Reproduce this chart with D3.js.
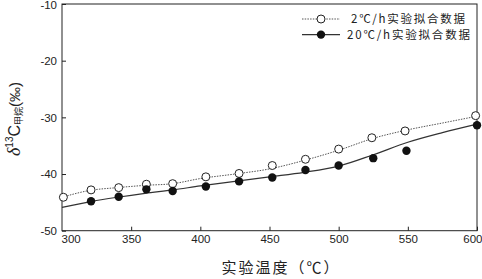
<!DOCTYPE html>
<html><head><meta charset="utf-8">
<script src="https://cdn.jsdelivr.net/npm/d3@7"></script>
<style>body{margin:0;background:#fff}svg{display:block}</style>
</head><body>
<script>
// data
const tempsOpen = [301,321,341,361,380,404,428,452,476,500,524,548,599];
const valsOpen  = [-44.1,-42.8,-42.4,-41.8,-41.7,-40.5,-39.9,-38.5,-37.4,-35.6,-33.6,-32.4,-29.7];
const tempsFilled = [321,341,361,380,404,428,452,476,500,525,549,600];
const valsFilled  = [-44.8,-44.0,-42.7,-43.0,-42.2,-41.3,-40.6,-39.3,-38.5,-37.2,-35.9,-31.4];
const fitTemps = [300,320,340,360,380,400,425,450,475,500,525,550,575,600];
const fitOpen  = [-44.1,-42.9,-42.4,-42.0,-41.7,-40.8,-40.0,-39.1,-37.6,-35.8,-33.7,-32.2,-31.0,-29.8];
const fitFilled= [-45.9,-44.9,-44.1,-43.4,-42.8,-42.1,-41.3,-40.5,-39.7,-38.6,-36.6,-34.4,-32.7,-31.2];
const xTicks = [300,350,400,450,500,550,600];
const yTicks = [-10,-20,-30,-40,-50];
const legendLabels = ["2℃/h实验拟合数据","20℃/h实验拟合数据"];

const W=482,H=279;
const svg=d3.select("body").append("svg").attr("width",W).attr("height",H);
const x=d3.scaleLinear().domain([300,600]).range([62,477]);
const y=d3.scaleLinear().domain([-50,-10]).range([230.7,4]);
const ink="#222";

// frame
svg.append("rect").attr("x",62).attr("y",4).attr("width",415).attr("height",226.7)
  .attr("fill","none").attr("stroke",ink).attr("stroke-width",1);

// y axis
const ya=svg.append("g").attr("transform","translate(62,0)")
  .call(d3.axisLeft(y).tickValues(yTicks).tickSizeInner(-4).tickSizeOuter(0).tickPadding(5).tickFormat(d=>String(d)));
ya.select(".domain").remove();
ya.selectAll("line").attr("stroke",ink);
ya.selectAll("text").attr("font-family","Liberation Sans, Arial").attr("font-size",11.5).attr("fill",ink);
ya.selectAll(".tick").filter(d=>d===-10).select("text").attr("dy","0.42em");

// x axis
const xa=svg.append("g").attr("transform","translate(0,230.7)")
  .call(d3.axisBottom(x).tickValues(xTicks).tickSizeInner(-4).tickSizeOuter(0).tickPadding(4).tickFormat(d=>String(d)));
xa.select(".domain").remove();
xa.selectAll("line").attr("stroke",ink);
xa.selectAll("text").attr("font-family","Liberation Sans, Arial").attr("font-size",11.5).attr("fill",ink)
  .attr("text-anchor",d=>d===300?"start":(d===600?"end":"middle")).attr("dx",d=>d===300?-1:(d===600?5:0));
xa.selectAll(".tick").filter(d=>d===300).select("line").remove();

// fit lines
const fitLine=d3.line().x((d,i)=>x(fitTemps[i])).y(d=>y(d)).curve(d3.curveMonotoneX);
svg.append("path").attr("d",fitLine(fitOpen)).attr("fill","none").attr("stroke","#555")
  .attr("stroke-width",1).attr("stroke-dasharray","1.5,1.2");
svg.append("path").attr("d",fitLine(fitFilled)).attr("fill","none").attr("stroke","#333")
  .attr("stroke-width",1.2);

// points
svg.append("g").selectAll("circle").data(valsOpen).join("circle")
  .attr("cx",(d,i)=>x(tempsOpen[i])).attr("cy",d=>y(d)).attr("r",4)
  .attr("fill","#fff").attr("stroke",ink).attr("stroke-width",1);
svg.append("g").selectAll("circle").data(valsFilled).join("circle")
  .attr("cx",(d,i)=>x(tempsFilled[i])).attr("cy",d=>y(d)).attr("r",4.2)
  .attr("fill","#111");

// legend
const lg=svg.append("g");
[0,1].forEach(i=>{
  const ly=i===0?19:34.6;
  lg.append("line").attr("x1",302).attr("x2",340).attr("y1",ly).attr("y2",ly)
    .attr("stroke",i===0?"#555":"#333").attr("stroke-width",i===0?1:1.2)
    .attr("stroke-dasharray",i===0?"1.5,1.2":null);
  lg.append("circle").attr("cx",321).attr("cy",ly).attr("r",i===0?4:4.2)
    .attr("fill",i===0?"#fff":"#111").attr("stroke",i===0?ink:"none");
  lg.append("text").attr("x",i===0?351:347).attr("y",ly+4.1)
    .attr("font-family","Noto Sans CJK SC").attr("font-size",11.5).attr("fill",ink)
    .attr("textLength",i===0?114:123).attr("lengthAdjust","spacing")
    .text(legendLabels[i]);
});

// x label
svg.append("text").attr("x",281).attr("y",273).attr("text-anchor","middle")
  .attr("font-family","Noto Sans CJK SC").attr("font-size",15).attr("fill",ink)
  .attr("letter-spacing",2).text("实验温度（℃）");

// y label
const yl=svg.append("text").attr("transform","translate(20,119) rotate(-90)")
  .attr("text-anchor","middle").attr("fill",ink).attr("font-family","Liberation Sans, Arial");
yl.append("tspan").attr("font-family","Liberation Serif, serif").attr("font-style","italic").attr("font-size",18).text("δ");
yl.append("tspan").attr("font-size",10).attr("dy",-7).text("13");
yl.append("tspan").attr("font-size",16).attr("dy",7).text("C");
yl.append("tspan").attr("font-family","Noto Sans CJK SC").attr("font-size",9).attr("dy",2).text("甲烷");
yl.append("tspan").attr("font-size",15).attr("dy",-2).text("(‰)");
</script>
</body></html>
